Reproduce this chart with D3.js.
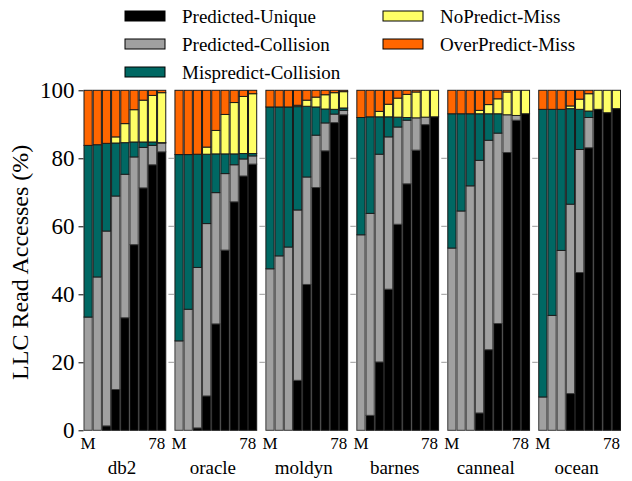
<!DOCTYPE html>
<html>
<head>
<meta charset="utf-8">
<script src="https://cdn.jsdelivr.net/npm/d3@7"></script>
<style>
  body { margin: 0; background: #fff; }
  text { font-family: "Liberation Serif", "Times New Roman", serif; fill: #000; }
</style>
</head>
<body>
<div id="chart"></div>
<script>
/* Data */
const GROUPS = ['db2', 'oracle', 'moldyn', 'barnes', 'canneal', 'ocean'];
const BAR_LABELS = ['M', '', '', '', '', '', '', '', '78'];
const SERIES = ['Predicted-Unique', 'Predicted-Collision', 'Mispredict-Collision', 'NoPredict-Miss', 'OverPredict-Miss'];
const Y_TICKS = [0, 20, 40, 60, 80, 100];

// one row per group, one value per bar (percent)
const PREDICTED_UNIQUE = [
    [0, 0, 1.3, 12.0, 33.1, 54.6, 71.3, 78.1, 81.9],
    [0, 0, 0.7, 10.1, 31.3, 53.0, 67.2, 74.8, 78.3],
    [0, 0, 0, 14.7, 42.9, 71.4, 82.2, 90.5, 92.8],
    [0, 4.4, 20.1, 41.5, 60.6, 72.5, 82.4, 89.9, 92.2],
    [0, 0, 0, 5.1, 23.7, 31.4, 81.7, 91.2, 93.1],
    [0, 0, 0, 10.8, 46.4, 83.1, 94.4, 93.4, 94.6]
];
const PREDICTED_COLLISION = [
    [33.3, 45.1, 57.3, 56.9, 42.2, 25.8, 11.9, 5.7, 2.6],
    [26.3, 35.6, 47.2, 50.7, 38.6, 22.5, 10.9, 5.0, 2.4],
    [47.5, 51.3, 53.9, 50.1, 31.6, 15.4, 8.2, 2.5, 1.3],
    [57.5, 59.4, 61.1, 44.8, 28.6, 18.7, 9.5, 2.2, 0],
    [53.6, 64.5, 71.9, 74.3, 61.6, 56.0, 11.1, 1.4, 0],
    [9.8, 33.8, 52.9, 55.7, 36.2, 8.9, 0, 0, 0]
];
const MISPREDICT_COLLISION = [
    [50.5, 38.9, 25.8, 15.6, 9.3, 4.4, 1.6, 1.0, 0.1],
    [54.8, 45.5, 33.3, 20.4, 11.4, 5.8, 3.2, 1.6, 0.7],
    [47.6, 43.8, 41.2, 30.4, 20.8, 8.3, 4.1, 1.4, 0.7],
    [34.5, 28.4, 11.0, 5.9, 2.9, 0.8, 0, 0, 0],
    [39.5, 28.6, 21.2, 13.7, 7.8, 5.7, 0, 0, 0],
    [84.6, 60.6, 41.5, 28.1, 11.8, 1.9, 0, 0, 0]
];
const NOPREDICT_MISS = [
    [0, 0, 0, 1.8, 5.6, 9.5, 12.3, 13.7, 14.7],
    [0, 0, 0, 2.1, 6.9, 11.6, 15.1, 16.8, 17.6],
    [0, 0, 0, 0.4, 1.8, 2.9, 4.2, 4.9, 4.8],
    [0, 0, 1.6, 3.7, 5.6, 6.8, 7.6, 7.9, 7.8],
    [0, 0, 0, 1.0, 2.7, 4.4, 6.7, 7.4, 6.9],
    [0, 0, 0, 0.8, 3.0, 5.1, 5.6, 6.6, 5.4]
];
const OVERPREDICT_MISS = [
    [16.2, 16.0, 15.6, 13.7, 9.8, 5.7, 2.9, 1.5, 0.7],
    [18.9, 18.9, 18.8, 16.7, 11.8, 7.1, 3.6, 1.8, 1.0],
    [4.9, 4.9, 4.9, 4.4, 2.9, 2.0, 1.3, 0.7, 0.4],
    [8.0, 7.8, 6.2, 4.1, 2.3, 1.2, 0.5, 0, 0],
    [6.9, 6.9, 6.9, 5.9, 4.2, 2.5, 0.5, 0, 0],
    [5.6, 5.6, 5.6, 4.6, 2.6, 1.0, 0, 0, 0]
];
const COLORS = ['#000000', '#a0a0a0', '#006863', '#ffff66', '#ff6600'];

/* Dimensions */
const WIDTH = 632;
const HEIGHT = 481;
const PLOT = { left: 83.5, right: 621, top: 90.3, bottom: 430.3 };

/* Build table */
const SERIES_DATA = [PREDICTED_UNIQUE, PREDICTED_COLLISION, MISPREDICT_COLLISION, NOPREDICT_MISS, OVERPREDICT_MISS];
const rows = [];
GROUPS.forEach((g, gi) => {
    BAR_LABELS.forEach((b, bi) => {
        const row = { group: g, bar: bi };
        SERIES.forEach((s, si) => { row[s] = SERIES_DATA[si][gi][bi]; });
        rows.push(row);
    });
});
const stacked = d3.stack().keys(SERIES)(rows);

/* Scales */
const xGroup = d3.scaleBand().domain(GROUPS)
    .range([PLOT.left, PLOT.right])
    .paddingInner(0.09).paddingOuter(0);
const xBar = d3.scaleBand().domain(d3.range(BAR_LABELS.length))
    .range([0, xGroup.bandwidth()]);
const y = d3.scaleLinear().domain([0, 100]).range([PLOT.bottom, PLOT.top]);

const svg = d3.select('#chart').append('svg')
    .attr('width', WIDTH)
    .attr('height', HEIGHT);

/* Bars */
svg.append('g').selectAll('g').data(stacked).enter().append('g')
    .attr('fill', (d, i) => COLORS[i])
    .attr('stroke', (d, i) => i === 1 ? '#3a3a3a' : '#1a1a1a')
    .attr('stroke-width', 1)
    .selectAll('rect').data(d => d.filter(p => p[1] - p[0] > 0)).enter().append('rect')
    .attr('x', d => xGroup(d.data.group) + xBar(d.data.bar) + 0.5)
    .attr('width', xBar.bandwidth() - 1)
    .attr('y', d => y(d[1]))
    .attr('height', d => y(d[0]) - y(d[1]));

/* Y axis */
const yAxis = svg.append('g')
    .attr('transform', `translate(${PLOT.left},0)`)
    .call(d3.axisLeft(y).tickValues(Y_TICKS).tickSize(5).tickPadding(4));
yAxis.select('.domain').remove();
yAxis.selectAll('text').style('font-size', '23px').style('font-family', '"Liberation Serif", serif');

// small ticks at each group's left edge
GROUPS.slice(1).forEach(g => {
    svg.append('g').selectAll('line').data(Y_TICKS.slice(1, -1)).enter().append('line')
        .attr('x1', xGroup(g) - 6).attr('x2', xGroup(g) - 0.5)
        .attr('y1', d => y(d)).attr('y2', d => y(d))
        .attr('stroke', '#999').attr('stroke-width', 1);
});

svg.append('text')
    .attr('transform', `translate(28,${(PLOT.top + PLOT.bottom) / 2 + 2}) rotate(-90)`)
    .attr('text-anchor', 'middle')
    .style('font-size', '24px')
    .text('LLC Read Accesses (%)');

/* X labels */
const xLabels = svg.append('g');
GROUPS.forEach(g => {
    const x0 = xGroup(g);
    xLabels.append('text')
        .attr('x', x0 + xBar(0) + xBar.bandwidth() / 2)
        .attr('y', 449)
        .attr('text-anchor', 'middle')
        .style('font-size', '17px')
        .text(BAR_LABELS[0]);
    xLabels.append('text')
        .attr('x', x0 + xGroup.bandwidth() - 1)
        .attr('y', 449)
        .attr('text-anchor', 'end')
        .style('font-size', '17px')
        .text(BAR_LABELS[BAR_LABELS.length - 1]);
    xLabels.append('text')
        .attr('x', x0 + xGroup.bandwidth() / 2 - 3)
        .attr('y', 474)
        .attr('text-anchor', 'middle')
        .style('font-size', '19px')
        .text(g);
});

/* Legend */
const legendPos = [[125, 16], [125, 44], [125, 72], [383, 16], [383, 44]];
const legend = svg.append('g');
SERIES.forEach((s, i) => {
    const [lx, ly] = legendPos[i];
    legend.append('rect')
        .attr('x', lx).attr('y', ly - 5)
        .attr('width', 40).attr('height', 10)
        .attr('fill', COLORS[i])
        .attr('stroke', '#000').attr('stroke-width', 1);
    legend.append('text')
        .attr('x', lx + 57).attr('y', ly)
        .attr('dy', '0.35em')
        .style('font-size', '19px')
        .text(s);
});
</script>
</body>
</html>
